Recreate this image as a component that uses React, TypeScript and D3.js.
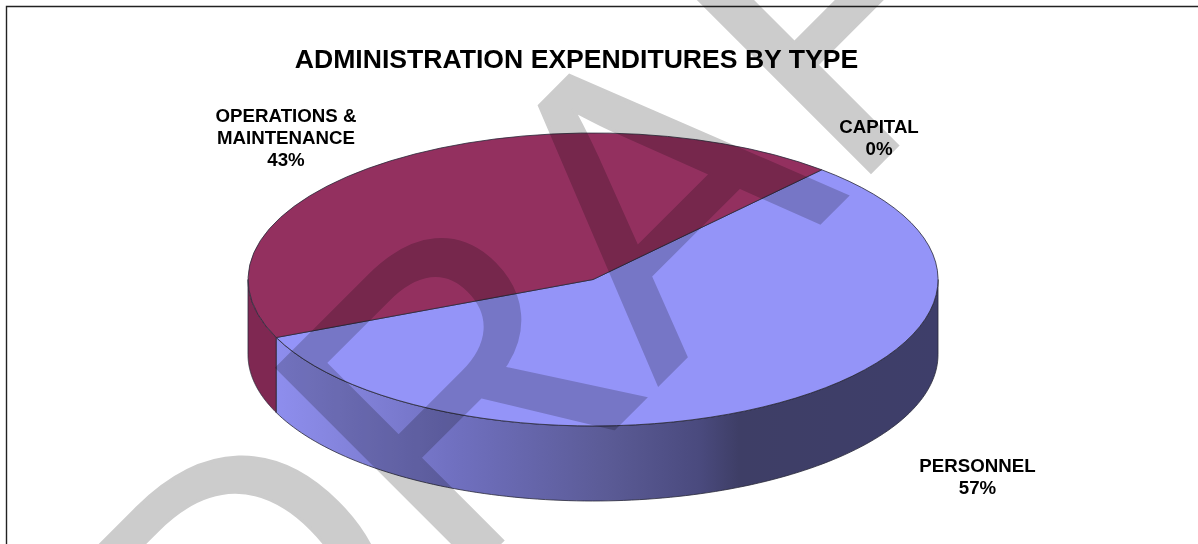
import React from "react";
import * as d3 from "d3";

const categories = ["PERSONNEL", "OPERATIONS & MAINTENANCE", "CAPITAL"];
const shares = [57, 43, 0];
const topColors = ["#9494f8", "#93305f", "#7f7f7f"];
const title = "ADMINISTRATION EXPENDITURES BY TYPE";
const watermark = "DRAFT";

const width = 1198;
const height = 544;
const cx = 593;
const cy = 279.5;
const rx = 345;
const ry = 146.5;
const depth = 75;
const startDeg = 41.5;

const toRad = d3.scaleLinear().domain([0, 360]).range([0, 2 * Math.PI]);

const slices = d3
  .pie<number>()
  .sort(null)
  .startAngle(toRad(startDeg))
  .endAngle(toRad(startDeg + 360))(shares);

const arc = d3.arc<d3.PieArcDatum<number>>().innerRadius(0).outerRadius(1);

// rim of the disc, front half only (90deg to 270deg clockwise from top)
const px = (a: number) => cx + rx * Math.sin(a);
const py = (a: number) => cy - ry * Math.cos(a);
const side = d3
  .area<number>()
  .x((a) => px(a))
  .y0((a) => py(a))
  .y1((a) => py(a) + depth);

function rimAngles(a0: number, a1: number) {
  const from = Math.max(a0, Math.PI / 2);
  const to = Math.min(a1, (3 * Math.PI) / 2);
  if (to <= from) return [];
  return d3.range(0, 121).map((i) => from + ((to - from) * i) / 120);
}

export default function App() {
  return (
    <svg
      width={width}
      height={height}
      style={{ position: "absolute", left: 0, top: 0, background: "#fff" }}
      fontFamily="'Liberation Sans', Arial, sans-serif"
    >
      <defs>
        <linearGradient id="personnelSide" gradientUnits="userSpaceOnUse" x1={275} x2={938} y1={0} y2={0}>
          <stop offset="0" stopColor="#8e8eee" />
          <stop offset="0.08" stopColor="#8686e0" />
          <stop offset="0.27" stopColor="#7070c0" />
          <stop offset="0.5" stopColor="#5b5b96" />
          <stop offset="0.64" stopColor="#4a4a7e" />
          <stop offset="0.7" stopColor="#3e3e66" />
          <stop offset="1" stopColor="#3e3e6a" />
        </linearGradient>
      </defs>
      <path d={`M${width},6.5H6.5V${height}`} fill="none" stroke="#222" strokeWidth={1.4} />

      {slices.map((s, i) => {
        const angles = rimAngles(s.startAngle, s.endAngle);
        if (!angles.length) return null;
        return (
          <path
            key={"side" + i}
            d={side(angles) || ""}
            fill={i === 0 ? "url(#personnelSide)" : "#7f2852"}
            stroke="#2a2a3a"
            strokeWidth={0.8}
          />
        );
      })}

      {slices.map((s, i) =>
        s.value > 0 ? (
          <path
            key={"top" + i}
            d={arc(s) || ""}
            transform={`translate(${cx},${cy}) scale(${rx},${ry})`}
            fill={topColors[i]}
            stroke="#2a2a3a"
            strokeWidth={0.8}
            vectorEffect="non-scaling-stroke"
          />
        ) : null
      )}

      <text x={576.5} y={68} textAnchor="middle" fontSize={26.6} fontWeight="bold" fill="#000">
        {title}
      </text>

      <g fontSize={18.7} fontWeight="bold" textAnchor="middle" fill="#000">
        <text x={286} y={122}>OPERATIONS &amp;</text>
        <text x={286} y={144}>MAINTENANCE</text>
        <text x={286} y={166}>{shares[1]}%</text>
        <text x={879} y={133}>{categories[2]}</text>
        <text x={879} y={155}>{shares[2]}%</text>
        <text x={977.5} y={472}>{categories[0]}</text>
        <text x={977.5} y={494}>{shares[0]}%</text>
      </g>

      <text
        transform="translate(247.5,795.5) rotate(-45) scale(1,1.018)"
        fontSize={402}
        fill="#cccccc"
        stroke="#cccccc"
        strokeWidth={3}
        style={{ mixBlendMode: "multiply" }}
      >
        {watermark}
      </text>
    </svg>
  );
}
